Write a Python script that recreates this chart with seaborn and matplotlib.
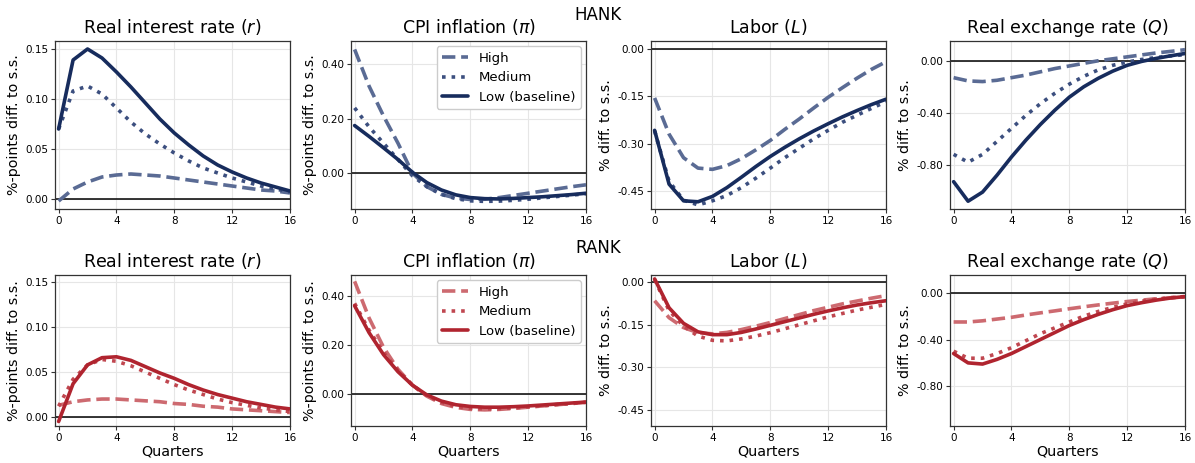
import numpy as np
import pandas as pd
import matplotlib
matplotlib.use("Agg")
import matplotlib.pyplot as plt
import seaborn as sns
from matplotlib.ticker import FuncFormatter

quarters = list(range(17))
scenarios = ["High", "Medium", "Low (baseline)"]
titles = [r"Real interest rate ($r$)", r"CPI inflation ($\pi$)", r"Labor ($L$)", r"Real exchange rate ($Q$)"]
ylabels = ["%-points diff. to s.s.", "%-points diff. to s.s.", "% diff. to s.s.", "% diff. to s.s."]
row_titles = ["HANK", "RANK"]
xticks = [0, 4, 8, 12, 16]
yticks = [[0.00, 0.05, 0.10, 0.15], [0.00, 0.20, 0.40], [0.00, -0.15, -0.30, -0.45], [0.00, -0.40, -0.80]]
ylims = [(-0.010, 0.158), (-0.132, 0.486), (-0.508, 0.026), (-1.14, 0.152)]

# HANK
hank_r_high = [-0.002, 0.010, 0.017, 0.022, 0.024, 0.025, 0.024, 0.023, 0.021, 0.019, 0.017, 0.015, 0.013, 0.011, 0.009, 0.008, 0.006]
hank_r_med = [0.070, 0.108, 0.113, 0.105, 0.091, 0.077, 0.065, 0.055, 0.046, 0.038, 0.031, 0.026, 0.021, 0.017, 0.013, 0.010, 0.007]
hank_r_low = [0.070, 0.139, 0.150, 0.141, 0.127, 0.112, 0.096, 0.080, 0.066, 0.054, 0.043, 0.034, 0.027, 0.021, 0.016, 0.012, 0.008]

hank_pi_high = [0.455, 0.320, 0.210, 0.110, 0.000, -0.050, -0.078, -0.092, -0.097, -0.096, -0.090, -0.082, -0.074, -0.066, -0.058, -0.050, -0.043]
hank_pi_med = [0.240, 0.170, 0.110, 0.050, -0.010, -0.050, -0.078, -0.094, -0.102, -0.104, -0.103, -0.100, -0.096, -0.091, -0.086, -0.081, -0.076]
hank_pi_low = [0.175, 0.135, 0.093, 0.050, 0.003, -0.035, -0.062, -0.080, -0.090, -0.094, -0.095, -0.093, -0.090, -0.087, -0.083, -0.079, -0.074]

hank_l_high = [-0.155, -0.270, -0.345, -0.378, -0.382, -0.370, -0.348, -0.320, -0.290, -0.255, -0.222, -0.187, -0.153, -0.122, -0.092, -0.064, -0.040]
hank_l_med = [-0.260, -0.420, -0.480, -0.495, -0.482, -0.465, -0.440, -0.410, -0.378, -0.345, -0.315, -0.285, -0.258, -0.232, -0.210, -0.188, -0.167]
hank_l_low = [-0.258, -0.429, -0.482, -0.485, -0.468, -0.440, -0.407, -0.373, -0.341, -0.312, -0.285, -0.260, -0.237, -0.215, -0.195, -0.176, -0.159]

hank_q_high = [-0.130, -0.155, -0.160, -0.150, -0.130, -0.110, -0.085, -0.060, -0.040, -0.020, 0.000, 0.015, 0.030, 0.045, 0.060, 0.072, 0.085]
hank_q_med = [-0.720, -0.780, -0.720, -0.620, -0.520, -0.420, -0.330, -0.250, -0.180, -0.120, -0.070, -0.035, -0.010, 0.010, 0.025, 0.037, 0.047]
hank_q_low = [-0.930, -1.080, -1.010, -0.880, -0.740, -0.610, -0.490, -0.380, -0.280, -0.200, -0.135, -0.080, -0.035, -0.005, 0.018, 0.038, 0.056]

# RANK
rank_r_high = [0.013, 0.017, 0.019, 0.020, 0.020, 0.019, 0.018, 0.017, 0.015, 0.014, 0.012, 0.011, 0.009, 0.008, 0.007, 0.006, 0.005]
rank_r_med = [0.012, 0.042, 0.058, 0.064, 0.062, 0.057, 0.050, 0.043, 0.036, 0.030, 0.025, 0.020, 0.016, 0.013, 0.010, 0.008, 0.006]
rank_r_low = [-0.005, 0.037, 0.058, 0.066, 0.067, 0.063, 0.056, 0.049, 0.043, 0.036, 0.030, 0.025, 0.021, 0.017, 0.014, 0.011, 0.009]

rank_pi_high = [0.460, 0.310, 0.190, 0.100, 0.035, -0.010, -0.040, -0.056, -0.064, -0.066, -0.064, -0.060, -0.055, -0.050, -0.045, -0.040, -0.035]
rank_pi_med = [0.370, 0.260, 0.170, 0.095, 0.035, -0.008, -0.035, -0.052, -0.060, -0.062, -0.061, -0.058, -0.054, -0.049, -0.044, -0.040, -0.035]
rank_pi_low = [0.360, 0.250, 0.160, 0.090, 0.035, -0.005, -0.030, -0.045, -0.052, -0.055, -0.055, -0.053, -0.050, -0.046, -0.042, -0.038, -0.034]

rank_l_high = [-0.065, -0.125, -0.160, -0.178, -0.182, -0.177, -0.167, -0.155, -0.142, -0.128, -0.114, -0.100, -0.088, -0.076, -0.066, -0.056, -0.047]
rank_l_med = [0.010, -0.100, -0.155, -0.190, -0.205, -0.207, -0.200, -0.190, -0.178, -0.164, -0.150, -0.136, -0.122, -0.110, -0.098, -0.088, -0.078]
rank_l_low = [0.012, -0.090, -0.145, -0.175, -0.185, -0.185, -0.177, -0.165, -0.152, -0.139, -0.126, -0.113, -0.101, -0.090, -0.080, -0.072, -0.065]

rank_q_high = [-0.250, -0.250, -0.240, -0.225, -0.210, -0.190, -0.172, -0.155, -0.137, -0.120, -0.104, -0.089, -0.075, -0.063, -0.052, -0.043, -0.035]
rank_q_med = [-0.500, -0.560, -0.560, -0.520, -0.470, -0.410, -0.350, -0.300, -0.250, -0.200, -0.160, -0.125, -0.095, -0.072, -0.055, -0.042, -0.032]
rank_q_low = [-0.520, -0.600, -0.610, -0.570, -0.520, -0.460, -0.400, -0.340, -0.280, -0.230, -0.185, -0.145, -0.110, -0.085, -0.063, -0.045, -0.033]

data = {
    "HANK": [
        [hank_r_high, hank_r_med, hank_r_low],
        [hank_pi_high, hank_pi_med, hank_pi_low],
        [hank_l_high, hank_l_med, hank_l_low],
        [hank_q_high, hank_q_med, hank_q_low],
    ],
    "RANK": [
        [rank_r_high, rank_r_med, rank_r_low],
        [rank_pi_high, rank_pi_med, rank_pi_low],
        [rank_l_high, rank_l_med, rank_l_low],
        [rank_q_high, rank_q_med, rank_q_low],
    ],
}

colors = {
    "HANK": ["#5a6b94", "#3c4f7f", "#172c5d"],
    "RANK": ["#cd6a70", "#c04750", "#b0242f"],
}
styles = ["--", ":", "-"]

sns.set_theme(style="ticks")
plt.rcParams["font.family"] = ["DejaVu Sans"]
plt.rcParams["mathtext.fontset"] = "dejavusans"
plt.rcParams["text.color"] = "black"
plt.rcParams["axes.labelcolor"] = "black"
plt.rcParams["xtick.color"] = "black"
plt.rcParams["ytick.color"] = "black"

W, H = 1195, 463
fig = plt.figure(figsize=(W / 100, H / 100), dpi=100)

lefts = [55, 351, 651, 950]
pw = 235
row_tops = [41, 275]
row_bots = [209, 426]
row_text_y = [15, 248]

fmt = FuncFormatter(lambda v, p: "%.2f" % (0.0 if abs(v) < 1e-9 else v))

for ri, row in enumerate(row_titles):
    fig.text(598 / W, 1 - row_text_y[ri] / H, row, ha="center", va="center", fontsize=12, color="black")
    for ci in range(4):
        rect = [lefts[ci] / W, 1 - row_bots[ri] / H, pw / W, (row_bots[ri] - row_tops[ri]) / H]
        ax = fig.add_axes(rect)
        ax.grid(True, color="#e6e6e6", lw=0.8)
        ax.set_axisbelow(True)
        ax.axhline(0, color="black", lw=1.1, zorder=1.5)
        for si, sc in enumerate(scenarios):
            df = pd.DataFrame({"Quarters": quarters, "val": data[row][ci][si]})
            sns.lineplot(data=df, x="Quarters", y="val", ax=ax, color=colors[row][si],
                         linestyle=styles[si], lw=2.6, label=sc, zorder=3)
        ax.set_xlim(-0.25, 16)
        ax.set_ylim(*ylims[ci])
        ax.set_xticks(xticks)
        ax.set_yticks(yticks[ci])
        ax.yaxis.set_major_formatter(fmt)
        ax.tick_params(labelsize=7.5, length=3, width=0.8, color="#333333", labelcolor="black", pad=2)
        for s in ax.spines.values():
            s.set_color("#333333")
            s.set_linewidth(0.9)
        ax.set_title(titles[ci], fontsize=12.5, pad=6, color="black")
        ax.set_ylabel(ylabels[ci], fontsize=10.3, labelpad=3, color="black")
        if ri == 1:
            ax.set_xlabel("Quarters", fontsize=10.3, labelpad=1, color="black")
        else:
            ax.set_xlabel("")
        if ci == 1:
            leg = ax.legend(loc="upper right", fontsize=9.5, frameon=True, edgecolor="#cccccc",
                            framealpha=1.0, handlelength=2.0, borderaxespad=0.4)
            for t in leg.get_texts():
                t.set_color("black")
        else:
            ax.get_legend().remove()

fig.savefig("out.png", dpi=100)
